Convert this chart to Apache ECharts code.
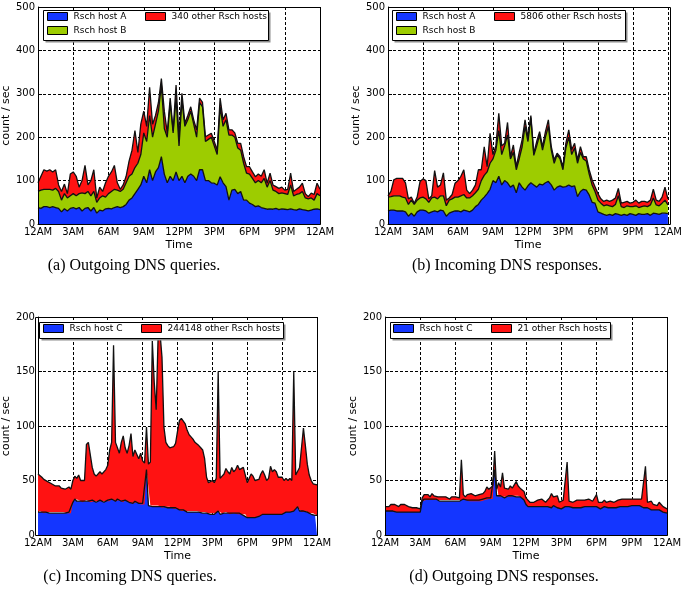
<!DOCTYPE html>
<html><head><meta charset="utf-8">
<script src="https://cdn.jsdelivr.net/npm/echarts@6.0.0/dist/echarts.min.js"></script>
<style>html,body{margin:0;padding:0;background:#fff}#c{width:685px;height:595px}</style>
</head><body><div id="c"></div>
<script>
// ---------- data ----------
const tickLabels = ['12AM','3AM','6AM','9AM','12PM','3PM','6PM','9PM','12AM'];
// sample times (hours): 15-min samples for (a),(b); 10-min samples for (c),(d)
const hoursAB = Array.from({length: 97}, (_, i) => i / 4);
const hoursCD = Array.from({length: 145}, (_, i) => i / 6);

// (a) Outgoing DNS queries
const aHostA = [38,36,40,40, 38,40,38,36, 28,35,30,36, 38,35,38,30, 36,38,30,38, 25,32,30,35,
  36,35,38,40, 38,40,45,55, 60,70,80,90, 110,95,125,100, 120,130,155,115, 95,110,100,120,
  100,110,95,110, 115,110,100,125, 125,100,100,95, 94,90,109,95, 86,55,78,80, 70,75,55,55,
  48,45,40,42, 38,36,34,35, 34,36,33,35, 34,33,35,33, 32,35,33,32, 30,32,34,35,33];
const aHostB = [37,42,40,40, 42,38,44,39, 27,35,30,29, 32,30,32,42, 34,37,35,37, 25,28,35,27,
  34,40,42,38, 37,40,50,55, 55,60,60,70, 100,95,125,100, 110,130,165,105, 105,170,110,170,
  80,175,130,130, 145,120,100,155, 145,90,95,105, 86,70,161,130, 154,150,127,120, 105,95,85,62,
  67,60,55,58, 57,69,51,65, 44,39,37,37, 36,35,55,32, 36,35,42,28, 28,28,21,35,32];
const aOther = [20,32,45,42, 45,42,43,15, 20,22,10,50, 50,45,15,28, 65,15,35,50, 10,25,10,33,
  40,45,55,17, 5,10,15,35, 55,85,25,70, 50,35,65,30, 20,20,15,40, 10,10,5,30,
  21,16,7,10, 10,10,17,10, 10,11,10,9, 10,10,20,15, 15,12,12,10, 11,16,15,15,
  17,15,14,15, 15,20,9,17, 12,11,12,13, 8,12,27,10, 12,15,19,10, 5,11,13,24,15];

// (b) Incoming DNS responses
const bHostA = [30,32,32,30, 30,30,28,18, 25,18,28,32, 32,30,25,28, 30,28,32,30, 18,25,28,30,
  30,28,32,30, 28,32,40,45, 55,62,70,80, 100,95,110,90, 100,95,85,90, 72,95,85,78,
  88,95,90,85, 92,90,95,98, 90,78,85,88, 85,86,90,86, 88,63,75,80, 78,67,50,48,
  28,25,22,20, 22,20,24,22, 20,22,20,24, 22,20,24,22, 22,24,20,25, 24,22,25,25,24];
const bHostB = [32,31,33,35, 35,32,32,27, 30,27,27,28, 30,28,25,32, 32,30,33,35, 24,30,30,32,
  32,37,36,30, 32,33,32,35, 45,50,50,60, 50,75,105,70, 80,110,65,75, 53,55,93,147,
  102,150,68,95, 113,80,105,127, 80,62,75,62, 40,89,110,74, 87,77,90,70, 67,48,40,27,
  27,23,20,24, 20,20,21,43, 20,16,22,16, 18,22,14,18, 20,16,24,35, 20,20,23,30,20];
const bOther = [3,12,37,40, 40,43,35,13, 7,3,7,38, 42,42,8,5, 61,27,25,53, 13,5,10,32,
  38,45,57,18, 10,13,18,45, 25,66,12,69, 10,10,40,20, 6,29,5,17, 7,15,16,15,
  10,5,5,10, 8,8,13,15, 8,8,3,5, 7,11,17,11, 11,8,13,5, 10,10,12,11,
  15,10,10,11, 10,15,15,17, 8,12,10,8, 10,13,10,12, 10,10,11,20, 11,10,14,30,14];

// (c) Incoming DNS queries
const cHostC = [21,22,21,20,21,21, 20,21,20,21,20,21, 20,21,20,20,21,20, 30,33,31,32,31,30,
  31,32,31,30,32,31, 30,31,32,31,30,31, 32,31,33,32,31,33, 32,31,30,32,31,30,
  30,29,31,30,29,28, 29,28,60,27,27,26, 27,26,27,26,25,26, 26,25,26,25,24,25,
  24,23,22,23,22,21, 22,21,22,21,22,21, 21,20,21,20,20,19, 20,19,20,22,19,20,
  20,21,20,19,20,20, 20,19,20,19,18,19, 16,15,16,15,16,17, 17,18,19,18,19,18,
  19,18,19,20,19,18, 19,20,21,20,21,22, 22,24,26,22,21,22, 22,21,20,19,20,18,18];
const cOther = [35,33,32,31,29,28, 28,26,26,24,24,24, 23,23,22,23,23,22, 20,21,21,23,19,21,
  19,51,54,54,30,25, 24,24,26,25,27,29, 32,47,52,142,54,47, 43,54,61,48,44,52,
  63,43,47,49,41,47, 39,38,39,38,40,152, 113,89,155,159,138,73, 59,57,54,54,57,59,
  71,82,85,85,80,75, 70,69,66,64,62,61, 59,58,49,33,28,28, 30,29,32,128,33,34,
  36,40,38,37,42,38, 40,45,40,40,44,36, 32,37,40,39,34,34, 34,38,40,37,31,34,
  44,40,41,38,34,34, 34,30,31,30,31,28, 128,31,30,40,59,76, 60,44,35,31,27,28,28];

// (d) Outgoing DNS responses
const dHostC = [22,21,22,21,22,21, 21,22,21,22,21,22, 21,20,21,20,21,20, 21,31,33,32,33,32,
  33,32,33,32,31,32, 31,32,31,32,31,32, 31,32,31,32,33,32, 32,31,32,31,32,31,
  32,31,33,32,34,33, 34,33,60,36,35,36, 35,34,35,36,35,36, 36,35,36,35,34,32,
  28,26,25,26,25,26, 25,26,25,26,25,26, 26,25,27,26,25,24, 24,25,26,25,26,25,
  25,26,25,26,25,26, 26,25,26,25,26,25, 26,25,24,25,26,25, 25,26,25,24,25,26,
  26,25,26,27,26,27, 27,26,27,26,27,26, 25,24,25,24,23,24, 23,22,23,22,21,20,20];
const dOther = [4,6,4,7,5,7, 6,4,7,5,7,5, 5,7,4,6,4,5, 3,3,4,4,4,3,
  5,4,4,3,3,3, 3,3,3,1,4,2, 4,4,3,37,4,3, 5,5,6,6,4,6,
  5,5,5,8,10,9, 8,12,17,6,13,8, 22,9,9,6,10,7, 8,14,9,8,8,8,
  6,6,5,5,5,5, 7,5,8,6,5,5, 8,13,8,8,11,6, 6,7,5,42,5,5,
  5,5,7,5,7,5, 6,6,7,7,5,7, 11,5,7,5,6,5, 5,5,7,6,6,6,
  6,8,8,6,8,6, 7,7,7,7,5,7, 7,39,5,5,8,4, 6,5,7,6,5,5,4];

const legendNames = {
  a: ['Rsch host A','Rsch host B','340 other Rsch hosts'],
  b: ['Rsch host A','Rsch host B','5806 other Rsch hosts'],
  c: ['Rsch host C','244148 other Rsch hosts'],
  d: ['Rsch host C','21 other Rsch hosts']
};
const captions = ['(a) Outgoing DNS queries.','(b) Incoming DNS responses.','(c) Incoming DNS queries.','(d) Outgoing DNS responses.'];

// ---------- styling / layout ----------
const BLUE = '#1436ff', GREEN = '#9dcc00', RED = '#ff1212';
const FONT = 'DejaVu Sans';
const panels = [
  {grid:{left:38,top:7,width:282,height:217}, yMax:500, yInt:100, hours:hoursAB, perTick:12,
   series:[[legendNames.a[0],aHostA,BLUE],[legendNames.a[1],aHostB,GREEN],[legendNames.a[2],aOther,RED]],
   leg:[[47,18],[47,32],[145,18]], box:[43,10,225,30], cap:[134,266]},
  {grid:{left:388,top:7,width:282,height:217}, yMax:500, yInt:100, hours:hoursAB, perTick:12,
   series:[[legendNames.b[0],bHostA,BLUE],[legendNames.b[1],bHostB,GREEN],[legendNames.b[2],bOther,RED]],
   leg:[[396,18],[396,32],[494,18]], box:[392,10,233,30], cap:[507,266]},
  {grid:{left:35,top:317,width:282,height:218}, yMax:200, yInt:50, hours:hoursCD, perTick:18,
   series:[[legendNames.c[0],cHostC,BLUE],[legendNames.c[1],cOther,RED]],
   leg:[[43,330],[141,330]], box:[39,322,244,16], cap:[130,577]},
  {grid:{left:385,top:317,width:282,height:218}, yMax:200, yInt:50, hours:hoursCD, perTick:18,
   series:[[legendNames.d[0],dHostC,BLUE],[legendNames.d[1],dOther,RED]],
   leg:[[393,330],[491,330]], box:[390,322,220,16], cap:[504,577]}
];

const option = {animation:false, textStyle:{fontFamily:FONT}, grid:[], xAxis:[], yAxis:[], series:[], legend:[], graphic:[]};
const dash = {color:'#000', width:1, type:[3,2]};
panels.forEach((p, k) => {
  const step = p.perTick;
  option.grid.push(Object.assign({show:true, backgroundColor:'#fff', borderWidth:0}, p.grid));
  option.xAxis.push({gridIndex:k, type:'category', boundaryGap:false, data:p.hours.map(String),
    axisLine:{show:true, onZero:false, lineStyle:{color:'#000'}},
    axisTick:{show:true, inside:true, length:4, interval:step-1, lineStyle:{color:'#000'}},
    axisLabel:{color:'#000', fontSize:10, fontFamily:FONT, margin:3, interval:step-1,
      showMinLabel:true, showMaxLabel:true,
      formatter:(v, i) => tickLabels[Math.round(i/step)]},
    splitLine:{show:true, interval:step-1, lineStyle:dash},
    name:'Time', nameLocation:'middle', nameGap:16,
    nameTextStyle:{color:'#000', fontSize:11, fontFamily:FONT}});
  option.yAxis.push({gridIndex:k, type:'value', min:0, max:p.yMax, interval:p.yInt,
    axisLine:{show:true, lineStyle:{color:'#000'}},
    axisTick:{show:true, inside:true, length:4, lineStyle:{color:'#000'}},
    axisLabel:{color:'#000', fontSize:10, fontFamily:FONT, margin:3},
    splitLine:{show:true, lineStyle:dash},
    name:'count / sec', nameLocation:'middle', nameRotate:90, nameGap:21,
    nameTextStyle:{color:'#000', fontSize:11, fontFamily:FONT}});
  p.series.forEach(([name, vals, color], j) => {
    option.series.push({type:'line', name:name, id:'s'+k+'_'+j, xAxisIndex:k, yAxisIndex:k, stack:'st'+k,
      data: vals.slice(),
      symbol:'none', showSymbol:false, clip:true, z:2,
      color: color, itemStyle:{color:color},
      lineStyle:{color:'#111', width:1.3}, areaStyle:{color:color, opacity:1},
      emphasis:{disabled:true}, silent:true});
    const [lx, ly] = p.leg[j];
    option.legend.push({data:[name], left:lx, top:ly-6, padding:0, itemWidth:20, itemHeight:8, itemGap:0,
      icon:'rect', z:6, selectedMode:false,
      itemStyle:{borderColor:'#000', borderWidth:1},
      textStyle:{color:'#000', fontSize:9, fontFamily:FONT, padding:[0,0,0,1]}});
  });
  const [bx, by, bw, bh] = p.box;
  option.graphic.push({type:'rect', z:4, z2:0, silent:true, shape:{x:bx+2.5, y:by+2.5, width:bw, height:bh}, style:{fill:'#8c8c8c', stroke:null}});
  option.graphic.push({type:'rect', z:4, z2:1, silent:true, shape:{x:bx+0.5, y:by+0.5, width:bw, height:bh}, style:{fill:'#fff', stroke:'#000', lineWidth:1}});
  const g = p.grid;
  option.graphic.push({type:'rect', z:5, silent:true, shape:{x:g.left+0.5, y:g.top+0.5, width:g.width, height:g.height}, style:{fill:null, stroke:'#000', lineWidth:1}});
  option.graphic.push({type:'text', z:5, silent:true, x:p.cap[0], y:p.cap[1],
    style:{text:captions[k], font:'16px "Liberation Serif"', fill:'#000', align:'center', verticalAlign:'middle', textAlign:'center', textVerticalAlign:'middle'}});
});

const chart = echarts.init(document.getElementById('c'), null, {renderer:'canvas'});
chart.setOption(option);
</script></body></html>
